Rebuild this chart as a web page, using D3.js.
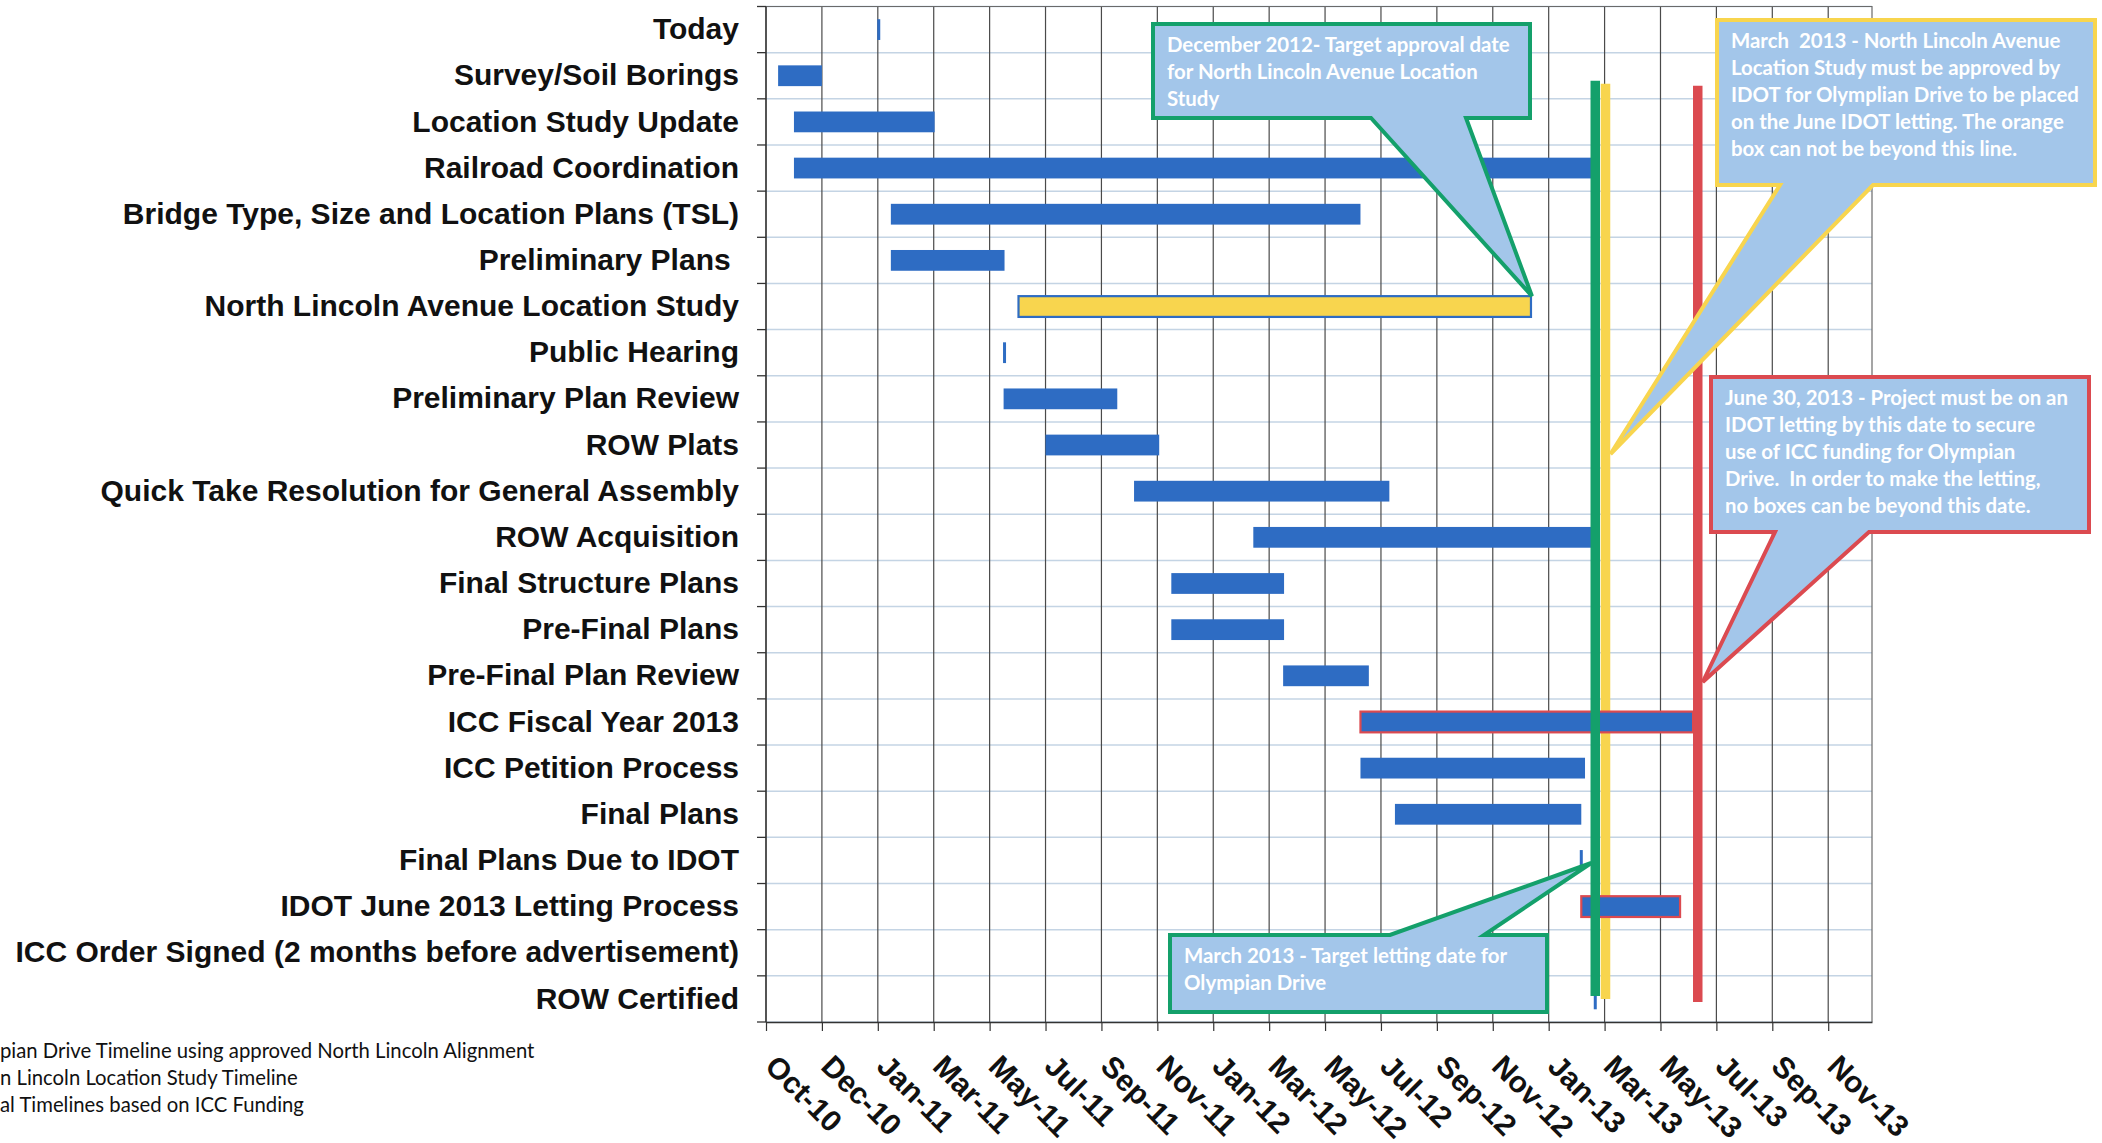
<!DOCTYPE html>
<html>
<head>
<meta charset="utf-8">
<script src="https://cdn.jsdelivr.net/npm/d3@7"></script>
<style>
body { margin: 0; background: #fff; }
svg { display: block; }
</style>
</head>
<body>
<div id="chart"></div>
<script>
var taskNames = ["Today", "Survey/Soil Borings", "Location Study Update", "Railroad Coordination",
	"Bridge Type, Size and Location Plans (TSL)", "Preliminary Plans ", "North Lincoln Avenue Location Study",
	"Public Hearing", "Preliminary Plan Review", "ROW Plats", "Quick Take Resolution for General Assembly",
	"ROW Acquisition", "Final Structure Plans", "Pre-Final Plans", "Pre-Final Plan Review", "ICC Fiscal Year 2013",
	"ICC Petition Process", "Final Plans", "Final Plans Due to IDOT", "IDOT June 2013 Letting Process",
	"ICC Order Signed (2 months before advertisement)", "ROW Certified"];
var startDates = ["2011-01-31", "2010-10-15", "2010-11-01", "2010-11-01", "2011-02-13", "2011-02-13", "2011-06-30",
	"2011-06-15", "2011-06-14", "2011-07-29", "2011-11-01", "2012-03-08", "2011-12-11", "2011-12-11", "2012-04-09",
	"2012-07-01", "2012-07-01", "2012-08-07", "2013-02-23", "2013-02-23", "2013-03-10", "2013-03-10"];
var endDates = ["2011-01-31", "2010-12-01", "2011-04-01", "2013-03-08", "2012-07-01", "2011-06-15", "2012-12-31",
	"2011-06-15", "2011-10-14", "2011-11-28", "2012-08-01", "2013-03-08", "2012-04-10", "2012-04-10", "2012-07-10",
	"2013-06-23", "2013-02-27", "2013-02-23", "2013-02-23", "2013-06-09", "2013-03-10", "2013-03-10"];
var milestoneTasks = ["Today", "Public Hearing", "Final Plans Due to IDOT",
	"ICC Order Signed (2 months before advertisement)", "ROW Certified"];
var fundingTasks = ["ICC Fiscal Year 2013", "IDOT June 2013 Letting Process"];
var locationStudyTask = "North Lincoln Avenue Location Study";

var axisStart = "2010-10-02";
var axisEnd = "2014-01-01";
var tickStepDays = 60;
var tickLabels = ["Oct-10", "Dec-10", "Jan-11", "Mar-11", "May-11", "Jul-11", "Sep-11", "Nov-11", "Jan-12", "Mar-12",
	"May-12", "Jul-12", "Sep-12", "Nov-12", "Jan-13", "Mar-13", "May-13", "Jul-13", "Sep-13", "Nov-13"];

// deadline lines: target letting, location study approval, ICC funding cut-off
var lettingDate = "2013-03-10";
var approvalDate = "2013-03-21";
var fundingDate = "2013-06-28";

var approvalNoteLines = ["December 2012- Target approval date", "for North Lincoln Avenue Location", "Study"];
var studyNoteLines = ["March  2013 - North Lincoln Avenue", "Location Study must be approved by",
	"IDOT for Olymplian Drive to be placed", "on the June IDOT letting. The orange", "box can not be beyond this line."];
var fundingNoteLines = ["June 30, 2013 - Project must be on an", "IDOT letting by this date to secure",
	"use of ICC funding for Olympian", "Drive.  In order to make the letting,", "no boxes can be beyond this date."];
var lettingNoteLines = ["March 2013 - Target letting date for", "Olympian Drive"];
var legendLines = ["pian Drive Timeline using approved North Lincoln Alignment", "n Lincoln Location Study Timeline",
	"al Timelines based on ICC Funding"];

var svgWidth = 2102;
var svgHeight = 1143;
var plotLeft = 766, plotRight = 1872, plotTop = 6.5, plotBottom = 1022;
var barBlue = "#2e6cc3";
var noteFill = "#a3c6ea";
var green = "#14a06b", yellow = "#f8d54e", red = "#db4a50";
var labelFont = "'Liberation Sans', Arial, sans-serif";
var noteFont = "Lato, 'Open Sans', sans-serif";

var parseDate = d3.timeParse("%Y-%m-%d");

var svg = d3.select("#chart").append("svg")
	.attr("width", svgWidth)
	.attr("height", svgHeight);

var x = d3.scaleTime()
	.domain([parseDate(axisStart), parseDate(axisEnd)])
	.range([plotLeft, plotRight]);

var y = d3.scaleBand()
	.domain(taskNames)
	.range([plotTop, plotBottom])
	.paddingInner(0.55)
	.paddingOuter(0.275);

var tickDates = tickLabels.map(function (l, i) { return d3.timeDay.offset(parseDate(axisStart), tickStepDays * i); });
var rowEdges = d3.range(taskNames.length + 1).map(function (i) { return plotTop + y.step() * i; });

function yMid(name)
{
	return y(name) + y.bandwidth() / 2;
}

// horizontal grid between rows
svg.append("g").selectAll("line")
	.data(rowEdges)
	.enter()
	.append("line")
	.attr("x1", plotLeft).attr("x2", plotRight)
	.attr("y1", function (d) { return d; }).attr("y2", function (d) { return d; })
	.style("stroke", "#c4d4e4")
	.style("stroke-width", 1.5);

// vertical grid at each tick
svg.append("g").selectAll("line")
	.data(tickDates)
	.enter()
	.append("line")
	.attr("x1", function (d) { return x(d); }).attr("x2", function (d) { return x(d); })
	.attr("y1", plotTop).attr("y2", plotBottom)
	.style("stroke", "#4a4a4a")
	.style("stroke-width", 1.2);

svg.append("path")
	.attr("d", "M" + plotLeft + "," + plotTop + "H" + plotRight + "V" + plotBottom)
	.style("fill", "none")
	.style("stroke", "#6a6a6a")
	.style("stroke-width", 1.2);

// row ticks on the left axis
svg.append("g").selectAll("line")
	.data(rowEdges)
	.enter()
	.append("line")
	.attr("x1", plotLeft - 9).attr("x2", plotLeft)
	.attr("y1", function (d) { return d; }).attr("y2", function (d) { return d; })
	.style("stroke", "#333")
	.style("stroke-width", 1.3);

svg.append("line")
	.attr("x1", plotLeft).attr("x2", plotLeft)
	.attr("y1", plotTop).attr("y2", plotBottom)
	.style("stroke", "#333")
	.style("stroke-width", 1.3);

var deadlines = [
	{"date": lettingDate, "color": green, "top": 5, "bottom": -3},
	{"date": approvalDate, "color": yellow, "top": 8, "bottom": 0},
	{"date": fundingDate, "color": red, "top": 10, "bottom": 3}
];

function drawDeadline(d)
{
	svg.append("line")
		.attr("x1", x(parseDate(d.date))).attr("x2", x(parseDate(d.date)))
		.attr("y1", yMid(taskNames[1]) + d.top)
		.attr("y2", yMid(taskNames[taskNames.length - 1]) + d.bottom)
		.style("stroke", d.color)
		.style("stroke-width", 9.5);
}

// the yellow line sits behind the bars, the others in front
drawDeadline(deadlines[1]);

var taskData = taskNames.map(function (name, i) {
	return {"name": name, "start": parseDate(startDates[i]), "end": parseDate(endDates[i])};
});

svg.append("g").selectAll("rect")
	.data(taskData)
	.enter()
	.append("rect")
	.attr("x", function (d) { return milestoneTasks.indexOf(d.name) >= 0 ? x(d.start) - 1.5 : x(d.start); })
	.attr("y", function (d) { return y(d.name); })
	.attr("width", function (d) { return milestoneTasks.indexOf(d.name) >= 0 ? 3 : x(d.end) - x(d.start); })
	.attr("height", y.bandwidth())
	.style("fill", function (d) { return d.name == locationStudyTask ? yellow : barBlue; })
	.style("stroke", function (d) {
		if (d.name == locationStudyTask) return barBlue;
		if (fundingTasks.indexOf(d.name) >= 0) return red;
		return "none";
	})
	.style("stroke-width", 2.2);

drawDeadline(deadlines[0]);
drawDeadline(deadlines[2]);

var xAxis = d3.axisBottom(x)
	.tickValues(tickDates)
	.tickFormat(function (d, i) { return tickLabels[i]; })
	.tickSize(9)
	.tickSizeOuter(0);

var xAxisG = svg.append("g")
	.attr("transform", "translate(0," + plotBottom + ")")
	.call(xAxis);
xAxisG.select(".domain").style("stroke", "#333").style("stroke-width", 1.3);
xAxisG.selectAll(".tick line").style("stroke", "#333").style("stroke-width", 1.2);
xAxisG.selectAll(".tick text")
	.attr("x", 0).attr("y", 0).attr("dy", 0)
	.attr("text-anchor", "start")
	.attr("transform", "translate(-3,46) rotate(45)")
	.style("font-family", labelFont)
	.style("font-weight", "bold")
	.style("font-size", "30px")
	.style("fill", "#111");

var yAxis = d3.axisLeft(y).tickSize(0).tickPadding(27);
var yAxisG = svg.append("g")
	.attr("transform", "translate(" + plotLeft + ",0)")
	.call(yAxis);
yAxisG.select(".domain").remove();
yAxisG.selectAll(".tick text")
	.style("font-family", labelFont)
	.style("font-weight", "bold")
	.style("font-size", "30px")
	.style("fill", "#111")
	.style("white-space", "pre");

function calloutPath(box, base, side, tip)
{
	var x0 = box[0], y0 = box[1], x1 = box[0] + box[2], y1 = box[1] + box[3];
	if (side == "bottom")
	{
		return "M" + x0 + "," + y0 + "H" + x1 + "V" + y1 + "H" + base[1] + "L" + tip[0] + "," + tip[1] +
			"L" + base[0] + "," + y1 + "H" + x0 + "Z";
	}
	return "M" + x0 + "," + y0 + "H" + base[0] + "L" + tip[0] + "," + tip[1] + "L" + base[1] + "," + y0 +
		"H" + x1 + "V" + y1 + "H" + x0 + "Z";
}

var callouts = [
	{"box": [1153, 24, 377, 94], "base": [1371, 1466], "side": "bottom", "color": green, "lines": approvalNoteLines,
		"tip": [x(parseDate(endDates[6])) + 1, y(locationStudyTask)]},
	{"box": [1717, 20, 378, 165], "base": [1780, 1873], "side": "bottom", "color": yellow, "lines": studyNoteLines,
		"tip": [x(parseDate(approvalDate)) + 5, 454]},
	{"box": [1711, 377, 378, 155], "base": [1775, 1869], "side": "bottom", "color": red, "lines": fundingNoteLines,
		"tip": [x(parseDate(fundingDate)) + 5, 682]},
	{"box": [1170, 935, 377, 77], "base": [1390, 1484], "side": "top", "color": green, "lines": lettingNoteLines,
		"tip": [x(parseDate(lettingDate)) - 4, 863]}
];

var notes = svg.append("g").selectAll("g")
	.data(callouts)
	.enter()
	.append("g");

notes.append("path")
	.attr("d", function (d) { return calloutPath(d.box, d.base, d.side, d.tip); })
	.style("fill", noteFill)
	.style("stroke", function (d) { return d.color; })
	.style("stroke-width", 4)
	.style("stroke-linejoin", "miter");

notes.selectAll("text")
	.data(function (d) { return d.lines.map(function (t, i) { return {"text": t, "x": d.box[0] + 14, "y": d.box[1] + 28 + i * 27}; }); })
	.enter()
	.append("text")
	.attr("x", function (d) { return d.x; })
	.attr("y", function (d) { return d.y; })
	.text(function (d) { return d.text; })
	.style("font-family", noteFont)
	.style("font-weight", "bold")
	.style("font-size", "20.4px")
	.style("fill", "#fff")
	.style("white-space", "pre");

svg.append("g").selectAll("text")
	.data(legendLines)
	.enter()
	.append("text")
	.attr("x", 0)
	.attr("y", function (d, i) { return 1058 + i * 27; })
	.text(function (d) { return d; })
	.style("font-family", noteFont)
	.style("font-size", "20.3px")
	.style("fill", "#111");
</script>
</body>
</html>
